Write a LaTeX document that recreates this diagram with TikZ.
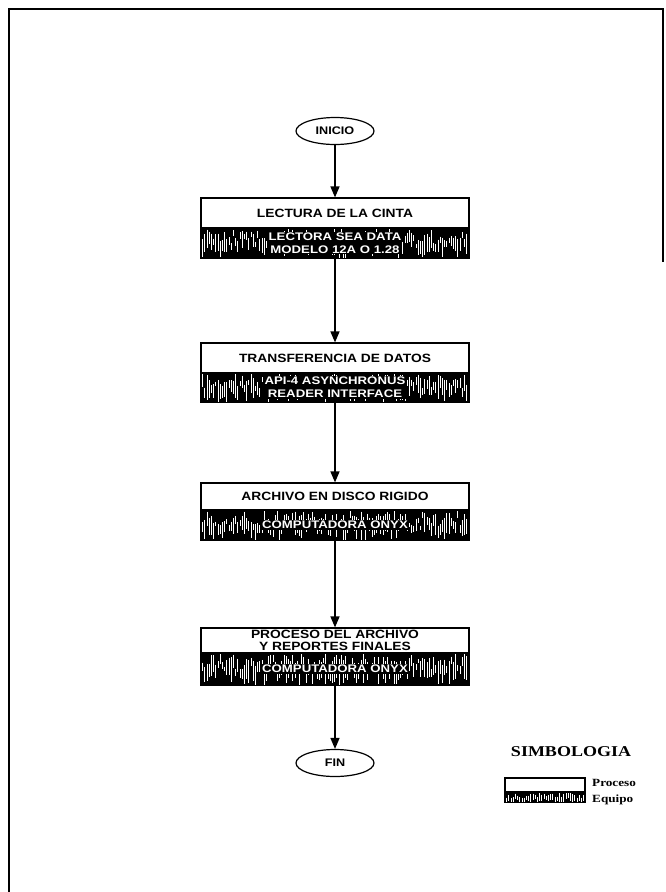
\documentclass[tikz,border=0pt]{standalone}
\usepackage{fontspec}
\setmainfont{Liberation Serif}
\setsansfont{Liberation Sans}
\newfontfamily\widesans[FakeStretch=1.15]{Liberation Sans}
\newfontfamily\bandsans[FakeStretch=1.2]{Liberation Sans}
\newfontfamily\wideserif[FakeStretch=1.2]{Liberation Serif}
\usetikzlibrary{arrows.meta,shapes.geometric}

\newcommand\mystreaks[5]{% x1,y1,x2,y2,seed
  \pgfmathsetseed{#5}%
  \pgfmathtruncatemacro\nn{(#3-#1-3)/2.2}%
  \foreach \k in {0,...,\nn}{%
    \pgfmathsetmacro\xx{#1+1.5+\k*2.2}%
    \pgfmathsetmacro\ya{#2+1+rnd*(#4-#2)*0.5}%
    \pgfmathsetmacro\yb{\ya+4+rnd*(#4-\ya-4)}%
    \draw[white,line width=0.8pt] (\xx,\ya) -- (\xx,\yb);
  }}

\begin{document}
\begin{tikzpicture}[x=1pt,y=-1pt,
  term/.style={ellipse, draw, line width=1.2pt, minimum width=78pt, minimum height=27pt, inner sep=0pt,
    font=\widesans\bfseries\fontsize{11}{12}\selectfont},
  procbox/.style={rectangle, draw, line width=1.2pt, minimum width=268pt, minimum height=#1, inner sep=0pt,
    align=center, font=\widesans\bfseries\fontsize{12}{11.5}\selectfont},
  eqband/.style={rectangle, draw, fill=black, line width=1.2pt, minimum width=268pt, minimum height=#1, inner sep=0pt},
  eqtext/.style={fill=black, text=white, inner sep=1pt, align=center,
    font=\bandsans\bfseries\fontsize{11}{13}\selectfont},
  flow/.style={-{Triangle[width=9pt,length=11pt]}, line width=1.4pt},
  legbox/.style={rectangle, draw, line width=1.2pt, minimum width=80pt, minimum height=#1, inner sep=0pt},
  leglabel/.style={anchor=west, inner sep=0pt, font=\wideserif\bfseries\fontsize{11}{12}\selectfont}]

\useasboundingbox (0,0) rectangle (665,892);
\fill[white] (0,0) rectangle (665,892);

% page frame
\draw[line width=1.8pt] (9,892) -- (9,9) -- (663,9) -- (663,262);

% terminals
\node[term] (ini) at (335,131) {INICIO};
\node[term] (fin) at (335,763) {FIN};

% step 1
\node[procbox=30pt] (p1) at (335,213) {LECTURA DE LA CINTA};
\node[eqband=30pt] (e1) at (335,243) {};
\mystreaks{201}{228}{469}{258}{11}
\draw[line width=1.2pt] (e1.south west) rectangle (e1.north east);
\node[eqtext] (t1) at (e1.center) {LECTORA SEA DATA\\MODELO 12A O 1.28};

% step 2
\node[procbox=30pt] (p2) at (335,358) {TRANSFERENCIA DE DATOS};
\node[eqband=29pt] (e2) at (335,387.5) {};
\mystreaks{201}{373}{469}{402}{23}
\draw[line width=1.2pt] (e2.south west) rectangle (e2.north east);
\node[eqtext] (t2) at (e2.center) {API-4 ASYNCHRONUS\\READER INTERFACE};

% step 3
\node[procbox=27pt] (p3) at (335,496.5) {ARCHIVO EN DISCO RIGIDO};
\node[eqband=30pt] (e3) at (335,525) {};
\mystreaks{201}{510}{469}{540}{37}
\draw[line width=1.2pt] (e3.south west) rectangle (e3.north east);
\node[eqtext] (t3) at (e3.center) {COMPUTADORA ONYX};

% step 4
\node[procbox=25pt] (p4) at (335,640.5) {PROCESO DEL ARCHIVO\\Y REPORTES FINALES};
\node[eqband=32pt] (e4) at (335,669) {};
\mystreaks{201}{653}{469}{685}{41}
\draw[line width=1.2pt] (e4.south west) rectangle (e4.north east);
\node[eqtext] (t4) at (e4.center) {COMPUTADORA ONYX};

% connectors
\draw[flow] (ini) -- (p1);
\draw[flow] (e1) -- (p2);
\draw[flow] (e2) -- (p3);
\draw[flow] (e3) -- (p4);
\draw[flow] (e4) -- (fin);

% legend
\node[font=\wideserif\bfseries\fontsize{15}{16}\selectfont, inner sep=0pt] (simb) at (571,752) {SIMBOLOGIA};
\node[legbox=14pt] (lp) at (545,785) {};
\node[legbox=10pt, fill=black] (le) at (545,797) {};
\mystreaks{505}{792}{585}{802}{53}
\draw[line width=1.2pt] (le.south west) rectangle (le.north east);
\node[leglabel] (lpt) at (592,783) {Proceso};
\node[leglabel] (let) at (592,800) {Equipo};
\end{tikzpicture}
\end{document}
